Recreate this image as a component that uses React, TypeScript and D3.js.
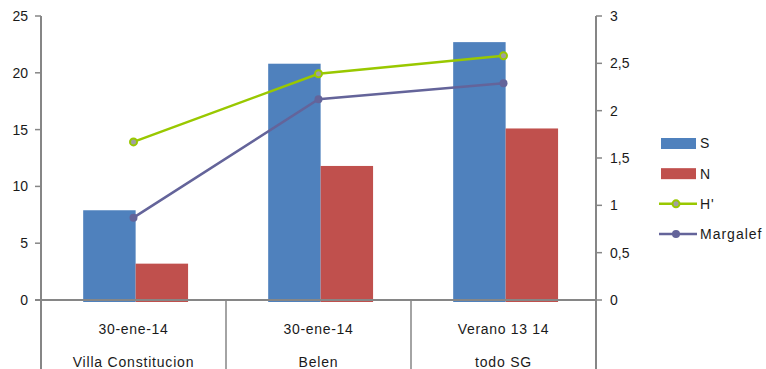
import React from "react";
import * as d3 from "d3";

const categories = ["Villa Constitucion", "Belen", "todo SG"];
const dateLabels = ["30-ene-14", "30-ene-14", "Verano 13 14"];
const sValues = [7.9, 20.8, 22.7];
const nValues = [3.2, 11.8, 15.1];
const hValues = [1.67, 2.39, 2.58];
const margalefValues = [0.87, 2.12, 2.29];
const leftTicks = [0, 5, 10, 15, 20, 25];
const rightTicks = [0, 0.5, 1, 1.5, 2, 2.5, 3];

const W = 766;
const H = 369;
const left = 41;
const right = 596;
const top = 16;
const bottom = 300;

const font = "'Liberation Sans', Arial, sans-serif";
const axisColor = "#868686";
const textColor = "#1a1a1a";
const colors = { S: "#4F81BD", N: "#C0504D", H: "#99C800", M: "#64649A" };

export default function App() {
  const x0 = d3.scaleBand<string>().domain(categories).range([left, right]).padding(0);
  const bw = x0.bandwidth();
  const x1 = d3.scaleBand<string>().domain(["S", "N"]).range([bw * 0.228, bw * 0.795]).padding(0);
  const yL = d3.scaleLinear().domain([0, 25]).range([bottom, top]);
  const yR = d3.scaleLinear().domain([0, 3]).range([bottom, top]);
  const cx = (c: string) => (x0(c) as number) + bw / 2;

  const line = (vals: number[]) =>
    d3.line<number>().x((_, i) => cx(categories[i])).y((v) => yR(v))(vals) as string;

  const fmt = (v: number) => String(v).replace(".", ",");

  const legend = [
    { key: "S", label: "S", type: "bar", color: colors.S },
    { key: "N", label: "N", type: "bar", color: colors.N },
    { key: "H", label: "H'", type: "line", color: colors.H },
    { key: "M", label: "Margalef", type: "line", color: colors.M },
  ];
  const legendY = d3.scaleLinear().domain([0, 3]).range([143.5, 234]);

  return (
    <svg width={W} height={H} style={{ position: "absolute", left: 0, top: 0 }} fontFamily={font}>
      <rect width={W} height={H} fill="#fff" />
      {/* bars */}
      {categories.map((c, i) => (
        <g key={c}>
          <rect
            x={(x0(c) as number) + (x1("S") as number)}
            y={yL(sValues[i])}
            width={x1.bandwidth()}
            height={yL(0) - yL(sValues[i]) + 2}
            fill={colors.S}
          />
          <rect
            x={(x0(c) as number) + (x1("N") as number)}
            y={yL(nValues[i])}
            width={x1.bandwidth()}
            height={yL(0) - yL(nValues[i]) + 2}
            fill={colors.N}
          />
        </g>
      ))}
      {/* axes */}
      <line x1={left} x2={left} y1={top} y2={H} stroke={axisColor} strokeWidth={2} />
      <line x1={right} x2={right} y1={top} y2={H} stroke={axisColor} strokeWidth={2} />
      <line x1={left - 6} x2={right} y1={bottom} y2={bottom} stroke={axisColor} strokeWidth={2} />
      {categories.slice(1).map((c) => (
        <line key={c} x1={x0(c)} x2={x0(c)} y1={bottom} y2={H} stroke={axisColor} strokeWidth={1.5} />
      ))}
      {leftTicks.map((t) => (
        <g key={t}>
          <line x1={left - 6} x2={left} y1={yL(t)} y2={yL(t)} stroke={axisColor} strokeWidth={1.5} />
          <text x={left - 13} y={yL(t)} dy="0.35em" textAnchor="end" fontSize={14} fill={textColor}>
            {t}
          </text>
        </g>
      ))}
      {rightTicks.map((t) => (
        <g key={t}>
          <line x1={right} x2={right + 6} y1={yR(t)} y2={yR(t)} stroke={axisColor} strokeWidth={1.5} />
          <text x={right + 14} y={yR(t)} dy="0.35em" textAnchor="start" fontSize={14} fill={textColor}>
            {fmt(t)}
          </text>
        </g>
      ))}
      {/* category labels */}
      {categories.map((c, i) => (
        <g key={c}>
          <text x={cx(c)} y={329} dy="0.35em" textAnchor="middle" fontSize={14} letterSpacing={0.7} fill={textColor}>
            {dateLabels[i]}
          </text>
          <text x={cx(c)} y={362} dy="0.35em" textAnchor="middle" fontSize={14} letterSpacing={0.8} fill={textColor}>
            {c}
          </text>
        </g>
      ))}
      {/* lines */}
      <path d={line(hValues)} fill="none" stroke={colors.H} strokeWidth={2.5} />
      {hValues.map((v, i) => (
        <circle key={i} cx={cx(categories[i])} cy={yR(v)} r={3.5} fill="#A0A0A0" stroke={colors.H} strokeWidth={2} />
      ))}
      <path d={line(margalefValues)} fill="none" stroke={colors.M} strokeWidth={2.5} />
      {margalefValues.map((v, i) => (
        <circle key={i} cx={cx(categories[i])} cy={yR(v)} r={4} fill={colors.M} />
      ))}
      {/* legend */}
      {legend.map((l, i) => {
        const y = legendY(i);
        return (
          <g key={l.key}>
            {l.type === "bar" ? (
              <rect x={661} y={y - 5.5} width={35} height={11} fill={l.color} />
            ) : (
              <g>
                <line x1={659} x2={697} y1={y} y2={y} stroke={l.color} strokeWidth={2.5} />
                {l.key === "H" ? (
                  <circle cx={676} cy={y} r={3.5} fill="#A0A0A0" stroke={l.color} strokeWidth={2} />
                ) : (
                  <circle cx={676} cy={y} r={4} fill={l.color} />
                )}
              </g>
            )}
            <text x={700} y={y} dy="0.35em" fontSize={14} letterSpacing={1} fill={textColor}>
              {l.label}
            </text>
          </g>
        );
      })}
    </svg>
  );
}
